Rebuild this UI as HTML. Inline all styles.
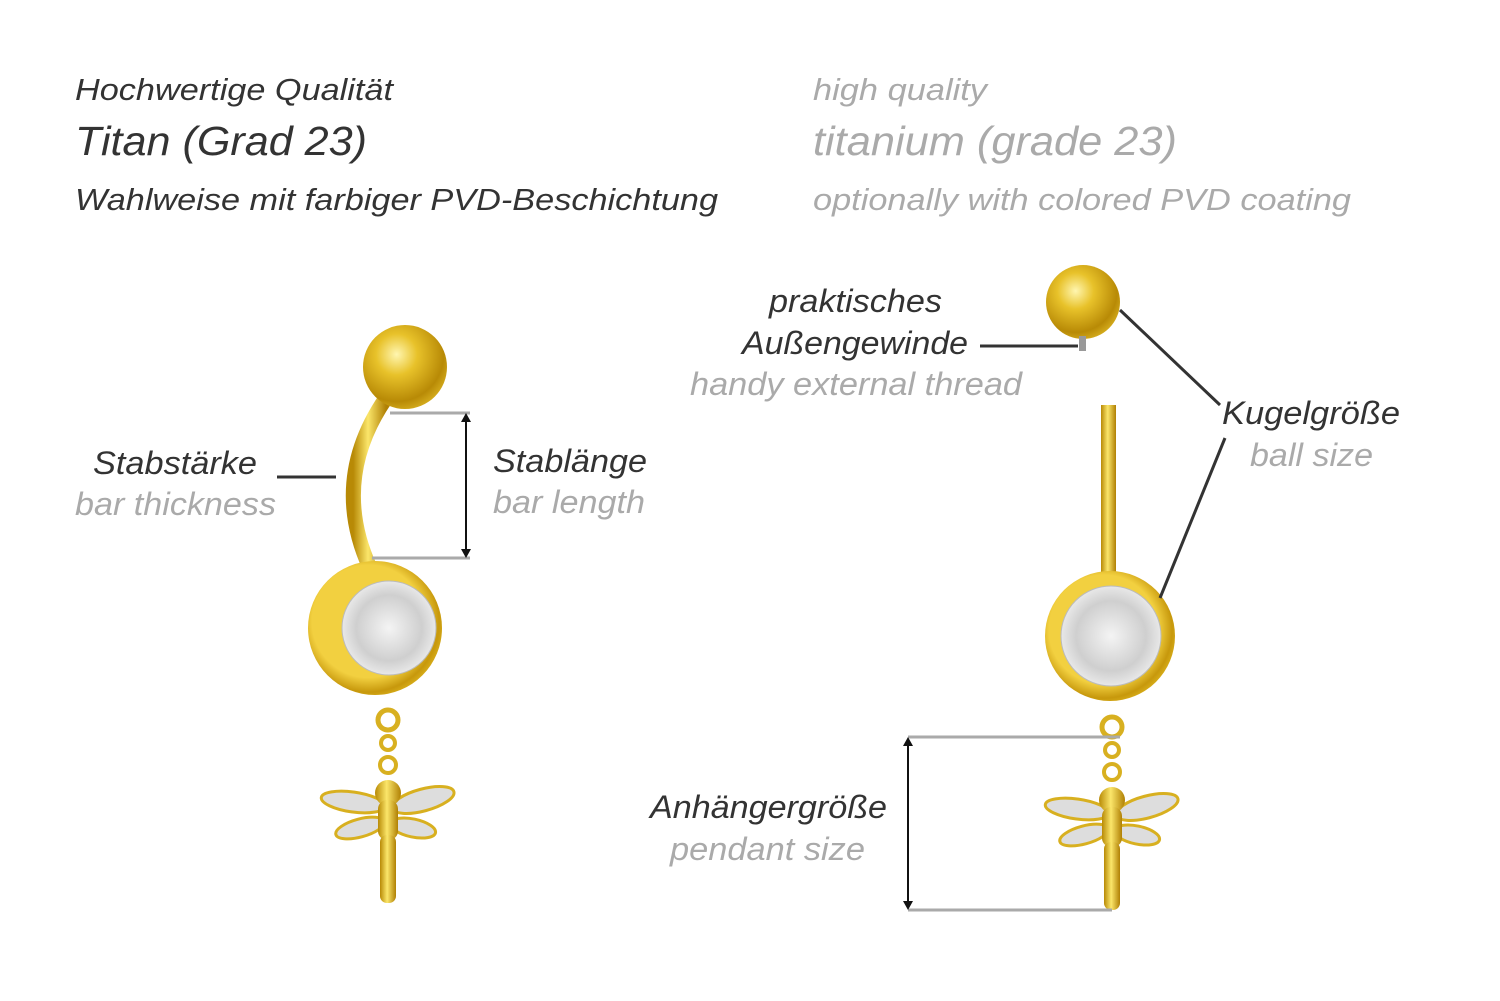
<!DOCTYPE html>
<html><head><meta charset="utf-8"><style>
html,body{margin:0;padding:0;background:#fff;}
svg{display:block}
text{font-family:"Liberation Sans",sans-serif;font-style:italic;}
.d{fill:#333}.g{fill:#aaa}
</style></head><body>
<svg width="1500" height="1001" viewBox="0 0 1500 1001">
<defs>
<radialGradient id="ball" cx="0.4" cy="0.35" r="0.7">
<stop offset="0" stop-color="#fff6b0"/><stop offset="0.35" stop-color="#e8c22a"/><stop offset="0.8" stop-color="#b88a06"/><stop offset="1" stop-color="#d8b020"/></radialGradient>
<linearGradient id="bar" x1="0" x2="1"><stop offset="0" stop-color="#b88a06"/><stop offset="0.45" stop-color="#fbe66a"/><stop offset="1" stop-color="#b08004"/></linearGradient>
<radialGradient id="bez" cx="0.45" cy="0.45" r="0.6"><stop offset="0.7" stop-color="#f2d040"/><stop offset="0.88" stop-color="#c7980c"/><stop offset="1" stop-color="#e0b820"/></radialGradient>
<radialGradient id="gem" cx="0.5" cy="0.5" r="0.5"><stop offset="0" stop-color="#f4f4f4"/><stop offset="0.7" stop-color="#cfcfcf"/><stop offset="1" stop-color="#e8e8e8"/></radialGradient>
<g id="fly">
<circle cx="0" cy="-75" r="10" fill="none" stroke="#d8b020" stroke-width="5"/>
<circle cx="0" cy="-52" r="7" fill="none" stroke="#d8b020" stroke-width="4"/>
<circle cx="0" cy="-30" r="8" fill="none" stroke="#d8b020" stroke-width="4"/>
<ellipse cx="-35" cy="7" rx="32" ry="10" transform="rotate(8 -35 7)" fill="#ddd" stroke="#d8b020" stroke-width="3"/>
<ellipse cx="35" cy="5" rx="32" ry="11" transform="rotate(-15 35 5)" fill="#ddd" stroke="#d8b020" stroke-width="3"/>
<ellipse cx="-28" cy="33" rx="25" ry="9" transform="rotate(-15 -28 33)" fill="#ddd" stroke="#d8b020" stroke-width="3"/>
<ellipse cx="25" cy="33" rx="23" ry="9" transform="rotate(12 25 33)" fill="#ddd" stroke="#d8b020" stroke-width="3"/>
<ellipse cx="0" cy="-2" rx="13" ry="13" fill="url(#bar)"/>
<rect x="-10" y="5" width="20" height="40" rx="9" fill="url(#bar)"/>
<rect x="-8" y="40" width="16" height="68" rx="7" fill="url(#bar)"/>
</g>
</defs>
<text x="75" y="100" font-size="31" class="d" textLength="318" lengthAdjust="spacingAndGlyphs">Hochwertige Qualität</text>
<text x="75" y="155" font-size="41" class="d" textLength="292" lengthAdjust="spacingAndGlyphs">Titan (Grad 23)</text>
<text x="75" y="210" font-size="31" class="d" textLength="643" lengthAdjust="spacingAndGlyphs">Wahlweise mit farbiger PVD-Beschichtung</text>
<text x="813" y="100" font-size="31" class="g" textLength="174" lengthAdjust="spacingAndGlyphs">high quality</text>
<text x="813" y="155" font-size="41" class="g" textLength="364" lengthAdjust="spacingAndGlyphs">titanium (grade 23)</text>
<text x="813" y="210" font-size="31" class="g" textLength="538" lengthAdjust="spacingAndGlyphs">optionally with colored PVD coating</text>

<!-- left piercing -->
<path d="M386 398 Q330 480 370 568" fill="none" stroke="url(#bar)" stroke-width="15"/>
<circle cx="405" cy="367" r="42" fill="url(#ball)"/>
<circle cx="375" cy="628" r="67" fill="url(#bez)"/>
<circle cx="389" cy="628" r="47" fill="url(#gem)" stroke="#bbb"/>
<use href="#fly" x="388" y="795"/>
<line x1="277" y1="477" x2="336" y2="477" stroke="#333" stroke-width="3"/>
<line x1="390" y1="413" x2="470" y2="413" stroke="#aaa" stroke-width="3"/>
<line x1="372" y1="558" x2="470" y2="558" stroke="#aaa" stroke-width="3"/>
<line x1="466" y1="420" x2="466" y2="551" stroke="#111" stroke-width="2"/>
<path d="M461 422 L466 413 L471 422Z M461 549 L466 558 L471 549Z" fill="#111"/>
<text x="93" y="474" font-size="32" class="d" textLength="164" lengthAdjust="spacingAndGlyphs">Stabstärke</text>
<text x="75" y="515" font-size="32" class="g" textLength="201" lengthAdjust="spacingAndGlyphs">bar thickness</text>
<text x="493" y="472" font-size="32" class="d" textLength="154" lengthAdjust="spacingAndGlyphs">Stablänge</text>
<text x="493" y="513" font-size="32" class="g" textLength="152" lengthAdjust="spacingAndGlyphs">bar length</text>

<!-- right piercing -->
<rect x="1101" y="405" width="15" height="178" fill="url(#bar)"/>
<circle cx="1083" cy="302" r="37" fill="url(#ball)"/>
<rect x="1079" y="336" width="7" height="15" fill="#999"/>
<circle cx="1110" cy="636" r="65" fill="url(#bez)"/>
<circle cx="1111" cy="636" r="50" fill="url(#gem)" stroke="#bbb"/>
<use href="#fly" x="1112" y="802"/>
<line x1="980" y1="346" x2="1078" y2="346" stroke="#333" stroke-width="3"/>
<line x1="1120" y1="310" x2="1220" y2="405" stroke="#333" stroke-width="3"/>
<line x1="1225" y1="438" x2="1160" y2="598" stroke="#333" stroke-width="3"/>
<line x1="908" y1="737" x2="1120" y2="737" stroke="#aaa" stroke-width="3"/>
<line x1="908" y1="910" x2="1112" y2="910" stroke="#aaa" stroke-width="3"/>
<line x1="908" y1="744" x2="908" y2="903" stroke="#111" stroke-width="2"/>
<path d="M903 746 L908 737 L913 746Z M903 901 L908 910 L913 901Z" fill="#111"/>
<text x="769" y="312" font-size="32" class="d" textLength="173" lengthAdjust="spacingAndGlyphs">praktisches</text>
<text x="742" y="354" font-size="32" class="d" textLength="226" lengthAdjust="spacingAndGlyphs">Außengewinde</text>
<text x="690" y="395" font-size="32" class="g" textLength="332" lengthAdjust="spacingAndGlyphs">handy external thread</text>
<text x="1222" y="424" font-size="32" class="d" textLength="178" lengthAdjust="spacingAndGlyphs">Kugelgröße</text>
<text x="1250" y="466" font-size="32" class="g" textLength="123" lengthAdjust="spacingAndGlyphs">ball size</text>
<text x="650" y="818" font-size="32" class="d" textLength="237" lengthAdjust="spacingAndGlyphs">Anhängergröße</text>
<text x="670" y="860" font-size="32" class="g" textLength="195" lengthAdjust="spacingAndGlyphs">pendant size</text>
</svg>
</body></html>
